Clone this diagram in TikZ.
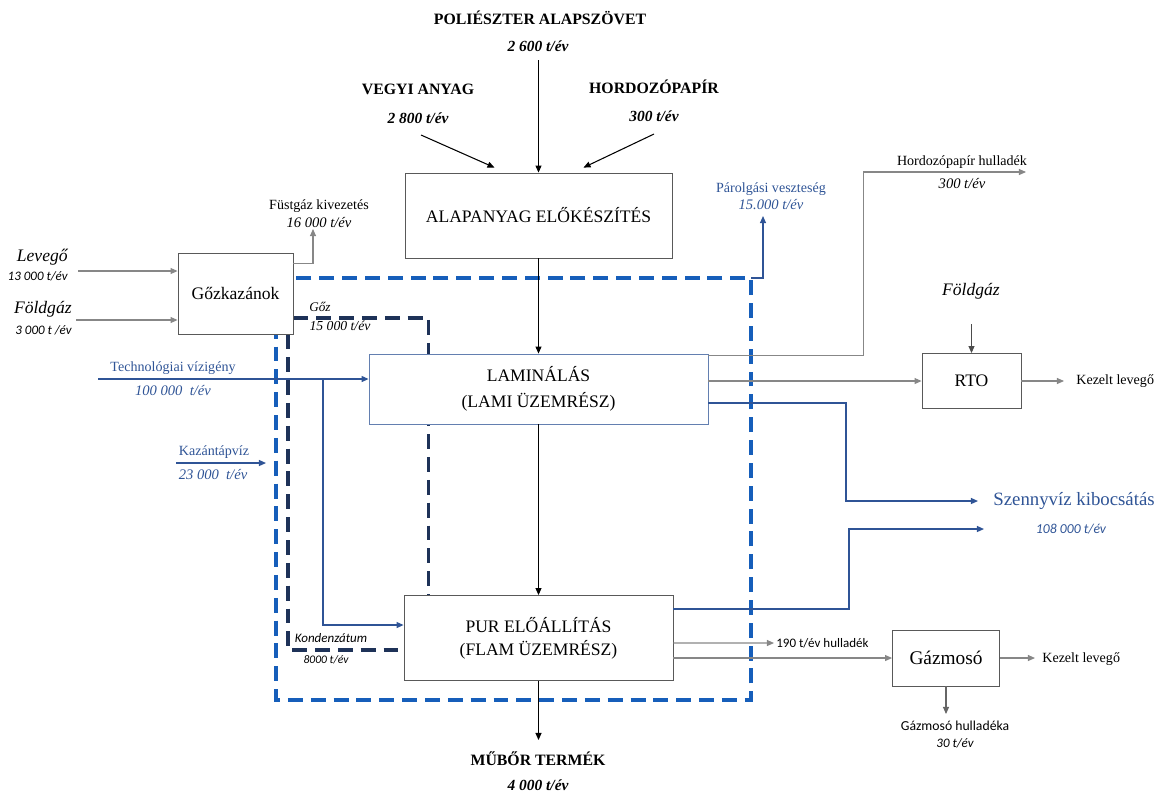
\documentclass[tikz,border=0pt]{standalone}
\usepackage{fontspec}
\setmainfont{Liberation Serif}
\newfontfamily\calfont{Carlito}
\usetikzlibrary{arrows.meta,backgrounds}

\definecolor{waterblue}{RGB}{47,84,150}
\definecolor{systemblue}{RGB}{22,94,186}
\definecolor{steamnavy}{RGB}{30,50,88}
\definecolor{linegray}{RGB}{135,135,135}

\tikzset{
	unit/.style={draw=black!65, fill=white, line width=0.5pt, align=center, inner sep=0pt, font=\fontsize{10}{14.5}\selectfont},
	lbl/.style={inner sep=0pt, align=center, font=\fontsize{8}{9}\selectfont},
	amount/.style={inner sep=0pt, font=\fontsize{8.3}{9}\selectfont\itshape},
	inlbl/.style={inner sep=0pt, font=\fontsize{10}{11}\selectfont\itshape},
	headlbl/.style={inner sep=0pt, font=\fontsize{9}{10}\selectfont\bfseries},
	headamount/.style={inner sep=0pt, font=\fontsize{8.8}{10}\selectfont\bfseries\itshape},
	calnote/.style={inner sep=0pt, font=\calfont\fontsize{7.4}{8}\selectfont\itshape},
	waterlbl/.style={lbl, text=waterblue},
	wateramount/.style={amount, text=waterblue},
	flow/.style={line width=0.6pt},
	grayflow/.style={draw=linegray, line width=0.6pt},
	waterflow/.style={draw=waterblue, line width=0.7pt},
	sysborder/.style={draw=systemblue, line width=2pt, dash pattern=on 8.5pt off 4.5pt},
	steamline/.style={draw=steamnavy, line width=2pt, dash pattern=on 8.5pt off 4.5pt},
}

\begin{document}
\begin{tikzpicture}[x=0.02cm, y=-0.02cm, >={Triangle[length=4pt,width=3.4pt]}]
	\useasboundingbox (0,0) rectangle (1156,796);

	% units
	\node[unit, minimum width=5.34cm, minimum height=1.7cm] (alap) at (538.5,215.5) {ALAPANYAG ELŐKÉSZÍTÉS};
	\node[unit, minimum width=2.3cm, minimum height=1.62cm] (goz) at (235.5,293.5) {Gőzkazánok};
	\node[unit, draw=waterblue!75, minimum width=6.78cm, minimum height=1.4cm] (lami) at (538.5,389) {LAMINÁLÁS\\(LAMI ÜZEMRÉSZ)};
	\node[unit, minimum width=5.38cm, minimum height=1.7cm, font=\fontsize{10}{13}\selectfont] (pur) at (538.5,638) {PUR ELŐÁLLÍTÁS\\(FLAM ÜZEMRÉSZ)};
	\node[unit, minimum width=1.98cm, minimum height=1.1cm] (rto) at (971.5,381) {RTO};
	\node[unit, minimum width=2.14cm, minimum height=1.12cm, font=\fontsize{11}{12}\selectfont] (gaz) at (946,658) {Gázmosó};

	% system border and steam loop
	\begin{scope}[on background layer]
		\draw[sysborder] (276,278) rectangle (751,700);
		\draw[steamline] ([yshift=-0.49cm]goz.east) -| ([xshift=-2.2cm]pur.north);
		\draw[steamline] ([xshift=1.05cm]goz.south) |- ([yshift=-0.24cm]pur.west);
	\end{scope}

	% raw materials
	\node[headlbl] (polytitle) at (540,18) {POLIÉSZTER ALAPSZÖVET};
	\node[headamount] (polyamount) at (538,46) {2 600 t/év};
	\node[headlbl] (chemtitle) at (418,89) {VEGYI ANYAG};
	\node[headamount] (chemamount) at (418,118) {2 800 t/év};
	\node[headlbl] (papertitle) at (654,87) {HORDOZÓPAPÍR};
	\node[headamount] (paperamount) at (654,116) {300 t/év};
	\coordinate (polyin) at (538.5,60);
	\coordinate (chemin) at (421,135);
	\coordinate (paperin) at (654,134);
	\draw[->, flow] (polyin) -- (alap.north);
	\draw[->, flow] (chemin) -- ([xshift=-0.88cm, yshift=0.1cm]alap.north);
	\draw[->, flow] (paperin) -- ([xshift=0.9cm, yshift=0.1cm]alap.north);

	% main line
	\draw[->, flow] (alap) -- (lami);
	\draw[->, flow] (lami) -- (pur);
	\coordinate (productout) at (538.5,740);
	\draw[->, flow] (pur) -- (productout);
	\node[headlbl] (producttitle) at (538,759) {MŰBŐR TERMÉK};
	\node[headamount] (productamount) at (538,785) {4 000 t/év};

	% boilers
	\node[inlbl, anchor=east] (airtitle) at (68,257) {Levegő};
	\node[calnote, anchor=east] (airamount) at (68,276) {13 000 t/év};
	\node[inlbl, anchor=east] (gastitle) at (72,309) {Földgáz};
	\node[calnote, anchor=east] (gasamount) at (72,330) {3 000 t /év};
	\coordinate (airin) at (78,271);
	\coordinate (gasin) at (76,320);
	\draw[->, grayflow] (airin) -- (airin -| goz.west);
	\draw[->, grayflow] (gasin) -- (gasin -| goz.west);
	\node[lbl] (fluetitle) at (319,206) {Füstgáz kivezetés};
	\node[amount] (flueamount) at (319,222) {16 000 t/év};
	\coordinate (flueout) at (313,229);
	\draw[->, grayflow] ([yshift=0.6cm]goz.east) -| (flueout);
	\node[amount, font=\fontsize{7.5}{8}\selectfont\itshape] (steamlbl) at (320,307) {Gőz};
	\node[amount, font=\fontsize{7.8}{8}\selectfont\itshape] (steamamount) at (340,326) {15 000 t/év};
	\node[calnote] (condlbl) at (331,638) {Kondenzátum};
	\node[calnote, font=\calfont\fontsize{6.6}{7}\selectfont\itshape] (condamount) at (326,660) {8000 t/év};

	% water
	\node[waterlbl] (techtitle) at (173,368) {Technológiai vízigény};
	\node[wateramount] (techamount) at (173,390) {100 000\ \ t/év};
	\coordinate (techin) at (98,379);
	\coordinate (techsplit) at (323,379);
	\draw[->, waterflow] (techin) -- (techin -| lami.west);
	\draw[->, waterflow] (techsplit) |- ([yshift=0.26cm]pur.west);
	\node[waterlbl] (feedtitle) at (214,452) {Kazántápvíz};
	\node[wateramount] (feedamount) at (213,474) {23 000\ \ t/év};
	\coordinate (feedin) at (176,463);
	\coordinate (feedend) at (266,463);
	\draw[->, waterflow] (feedin) -- (feedend);
	\node[waterlbl] (evaptitle) at (771,189) {Párolgási veszteség};
	\node[wateramount] (evapamount) at (771,205) {15.000 t/év};
	\coordinate (evapstart) at (751,278);
	\coordinate (evapout) at (763,216);
	\draw[->, waterflow] (evapstart) -| (evapout);

	% laminating outputs
	\node[lbl] (paperwastetitle) at (962,162) {Hordozópapír hulladék};
	\node[amount] (paperwasteamount) at (962,183) {300 t/év};
	\coordinate (paperout) at (1026,172);
	\draw[->, grayflow] ([yshift=-0.04cm]lami.north east) -| ([xshift=-3.26cm]paperout) -- (paperout);
	\draw[->, grayflow] (rto.west -| lami.east) -- (rto.west);
	\node[inlbl] (rtogastitle) at (971,291) {Földgáz};
	\coordinate (rtogasin) at (971.5,324);
	\draw[->, flow, draw=black!70] (rtogasin) -- (rto.north);
	\coordinate (rtoair) at (1064,381);
	\draw[->, grayflow] (rto.east) -- (rtoair);
	\node[lbl, anchor=west] (rtoairlbl) at (1076,381) {Kezelt levegő};

	% waste water
	\coordinate (wwend1) at (978,501);
	\coordinate (wwend2) at (984,529);
	\node[inner sep=0pt, anchor=west, text=waterblue, font=\fontsize{10.7}{12}\selectfont] (wwtitle) at (993,501) {Szennyvíz kibocsátás};
	\node[calnote, text=waterblue, font=\calfont\fontsize{7.8}{8}\selectfont\itshape] (wwamount) at (1071,529) {108 000 t/év};
	\draw[->, waterflow] ([yshift=-0.28cm]lami.east) -| ([xshift=-2.64cm]wwend1) -- (wwend1);
	\draw[->, waterflow] ([yshift=0.58cm]pur.east) -| ([xshift=-2.7cm]wwend2) -- (wwend2);

	% PUR outputs
	\coordinate (purwasteend) at (774,643);
	\draw[->, grayflow] ([yshift=-0.1cm]pur.east) -- (purwasteend);
	\node[calnote, font=\calfont\fontsize{7.4}{8}\selectfont, anchor=west] (purwastelbl) at (776,643) {190 t/év hulladék};
	\draw[->, grayflow] (gaz.west -| pur.east) -- (gaz.west);
	\coordinate (gazair) at (1035,658);
	\draw[->, grayflow] (gaz.east) -- (gazair);
	\node[lbl, anchor=west] (gazairlbl) at (1042,659) {Kezelt levegő};
	\coordinate (gazwastein) at (946,714);
	\draw[->, grayflow, draw=black!60] (gaz.south) -- (gazwastein);
	\node[calnote, font=\calfont\fontsize{7.8}{8}\selectfont] (gazwastelbl) at (955,726) {Gázmosó hulladéka};
	\node[calnote] (gazwasteamount) at (955,743) {30 t/év};
\end{tikzpicture}
\end{document}
